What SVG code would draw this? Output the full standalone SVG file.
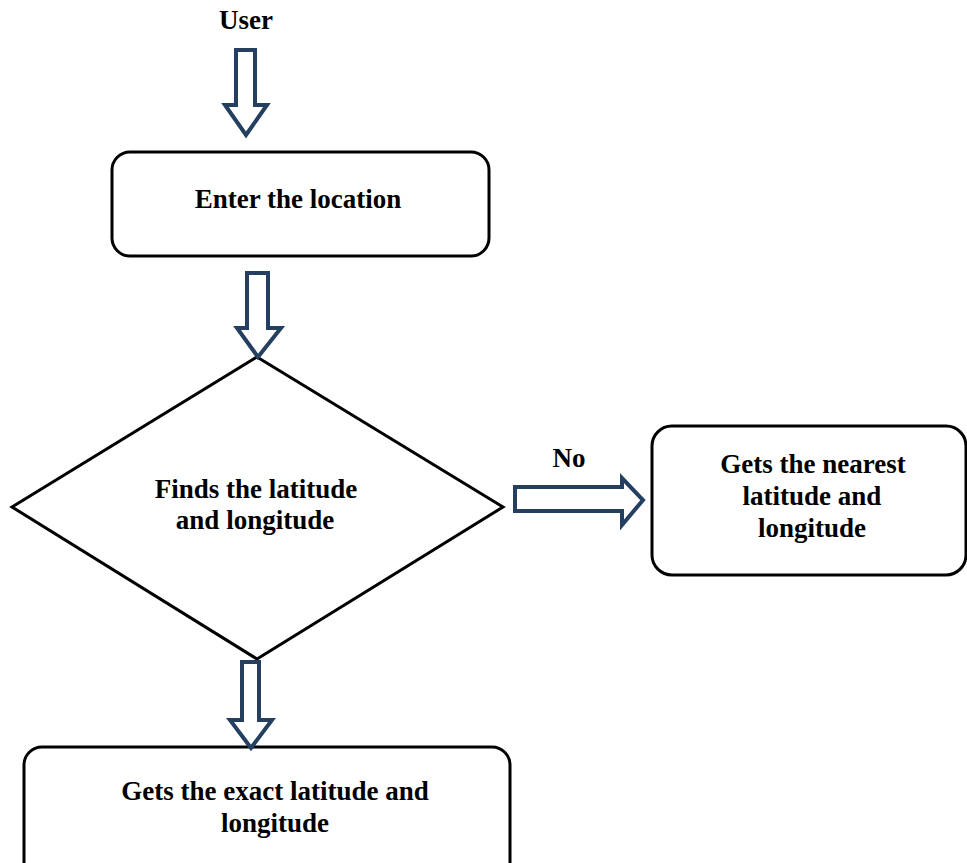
<svg xmlns="http://www.w3.org/2000/svg" width="967" height="863" viewBox="0 0 967 863">
<style>
.box{fill:#fff;stroke:#000;stroke-width:3}
.arr{fill:#fff;stroke:#243F60;stroke-width:4;stroke-linejoin:miter}
text{font-family:"Liberation Serif","Times New Roman",serif;font-weight:bold;font-size:27px;fill:#000;text-anchor:middle}
</style>
<rect width="967" height="863" fill="#fff"/>
<g id="user"><text x="246" y="29">User</text></g>
<g id="enter">
<rect class="box" x="112" y="152" width="377" height="104" rx="18"/>
<text x="298" y="208">Enter the location</text>
</g>
<g id="finds">
<polygon class="box" points="257,357 503,507 257,659 12,507"/>
<text x="256" y="498">Finds the latitude</text>
<text x="255" y="529">and longitude</text>
</g>
<g id="nearest">
<rect class="box" x="652" y="426" width="314" height="149" rx="20"/>
<text x="813" y="473">Gets the nearest</text>
<text x="812" y="505">latitude and</text>
<text x="812" y="537">longitude</text>
</g>
<g id="exact">
<rect class="box" x="24" y="747" width="486" height="140" rx="18"/>
<text x="275" y="800">Gets the exact latitude and</text>
<text x="275" y="832">longitude</text>
</g>
<g id="connectors">
<polygon class="arr" points="236,50 255,50 255,105 267,105 246,135 225,105 236,105"/>
<polygon class="arr" points="247,273 268,273 268,328 281,328 258,357 237,328 247,328"/>
<polygon class="arr" points="242,662 259,662 259,720 272,720 251,748 230,720 242,720"/>
<polygon class="arr" points="515,487 622,487 622,478 643,500 622,525 622,511 515,511"/>
<text x="569" y="467">No</text>
</g>
</svg>
